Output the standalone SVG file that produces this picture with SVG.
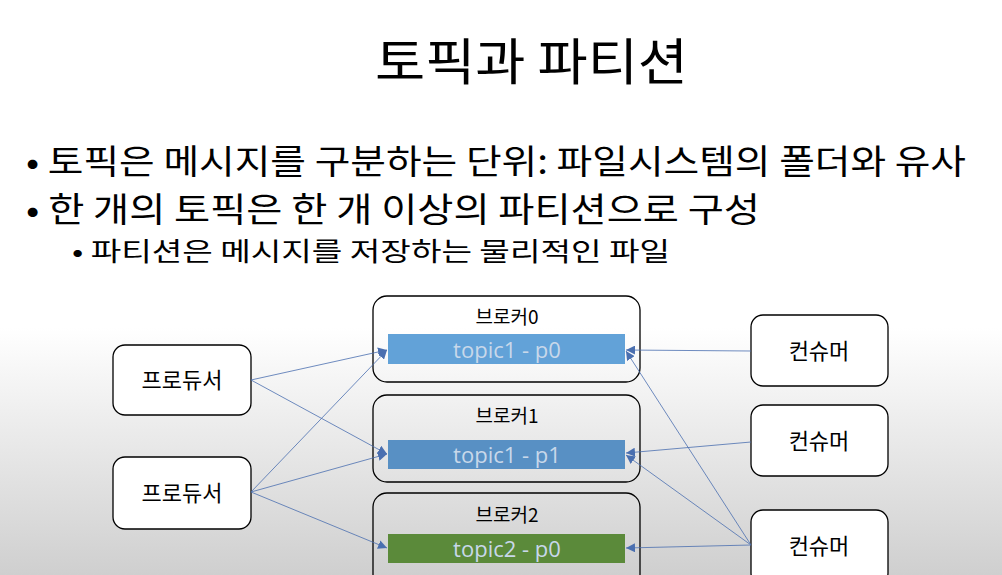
<svg xmlns="http://www.w3.org/2000/svg" width="1002" height="575" viewBox="0 0 1002 575">
<style>
text{font-family:"Noto Sans CJK KR","Liberation Sans",sans-serif;fill:#000}
.box{fill:#fff;stroke:#000;stroke-width:1.3}
.bk{fill:none;stroke:#000;stroke-width:1.3}
.lbl{font-size:22px;text-anchor:middle}
.bl{font-size:19px;text-anchor:middle}
.pt{font-family:"Open Sans","Liberation Sans",sans-serif;font-size:22px;fill:#c8d8ea;text-anchor:middle}
.c{stroke:#4a6fb0;stroke-width:0.8;fill:none;marker-end:url(#a)}
</style>
<defs>
<linearGradient id="bg" x1="0" y1="0" x2="0" y2="1">
<stop offset="0.57" stop-color="#fff"/><stop offset="1" stop-color="#cfcfcf"/>
</linearGradient>
<marker id="a" viewBox="0 0 10 10" refX="10" refY="5" markerWidth="9" markerHeight="9" markerUnits="userSpaceOnUse" orient="auto"><path d="M0,0L10,5L0,10z" fill="#4a6fb0"/></marker>
</defs>
<rect width="1002" height="575" fill="url(#bg)"/>
<text x="375" y="80" font-size="50" textLength="313" lengthAdjust="spacingAndGlyphs">토픽과 파티션</text>
<text x="26" y="174" font-size="34" textLength="940" lengthAdjust="spacingAndGlyphs">• 토픽은 메시지를 구분하는 단위: 파일시스템의 폴더와 유사</text>
<text x="26" y="222" font-size="34" textLength="734" lengthAdjust="spacingAndGlyphs">• 한 개의 토픽은 한 개 이상의 파티션으로 구성</text>
<text x="72" y="261" font-size="26" textLength="598" lengthAdjust="spacingAndGlyphs">• 파티션은 메시지를 저장하는 물리적인 파일</text>
<g id="producer1"><rect class="box" x="113" y="345" width="138" height="70" rx="12"/><text class="lbl" x="182" y="388">프로듀서</text></g>
<g id="producer2"><rect class="box" x="113" y="457" width="138" height="72" rx="12"/><text class="lbl" x="182" y="501">프로듀서</text></g>
<g id="broker0"><rect class="bk" x="373" y="296" width="267" height="86" rx="14"/><text class="bl" x="507" y="324">브로커0</text>
<rect x="388" y="334" width="237" height="30" fill="#62a2d8"/><text class="pt" x="507" y="358">topic1 - p0</text></g>
<g id="broker1"><rect class="bk" x="373" y="395" width="267" height="87" rx="14"/><text class="bl" x="507" y="423">브로커1</text>
<rect x="388" y="440" width="237" height="29" fill="#5890c4"/><text class="pt" x="507" y="463">topic1 - p1</text></g>
<g id="broker2"><rect class="bk" x="373" y="493" width="267" height="95" rx="14"/><text class="bl" x="507" y="522">브로커2</text>
<rect x="388" y="534" width="237" height="29" fill="#5b8a3a"/><text class="pt" x="507" y="557">topic2 - p0</text></g>
<g id="consumer1"><rect class="box" x="751" y="315" width="137" height="71" rx="12"/><text class="lbl" x="819" y="359">컨슈머</text></g>
<g id="consumer2"><rect class="box" x="751" y="405" width="137" height="71" rx="12"/><text class="lbl" x="819" y="449">컨슈머</text></g>
<g id="consumer3"><rect class="box" x="751" y="510" width="137" height="75" rx="12"/><text class="lbl" x="819" y="554">컨슈머</text></g>
<g id="connectors">
<line class="c" x1="251" y1="380" x2="387" y2="350"/>
<line class="c" x1="251" y1="380" x2="387" y2="454"/>
<line class="c" x1="251" y1="492" x2="387" y2="350"/>
<line class="c" x1="251" y1="492" x2="387" y2="454"/>
<line class="c" x1="251" y1="492" x2="387" y2="548"/>
<line class="c" x1="751" y1="351" x2="626" y2="350"/>
<line class="c" x1="751" y1="442" x2="626" y2="453"/>
<line class="c" x1="751" y1="545" x2="626" y2="351"/>
<line class="c" x1="751" y1="545" x2="626" y2="455"/>
<line class="c" x1="751" y1="545" x2="626" y2="548"/>
</g>
</svg>
